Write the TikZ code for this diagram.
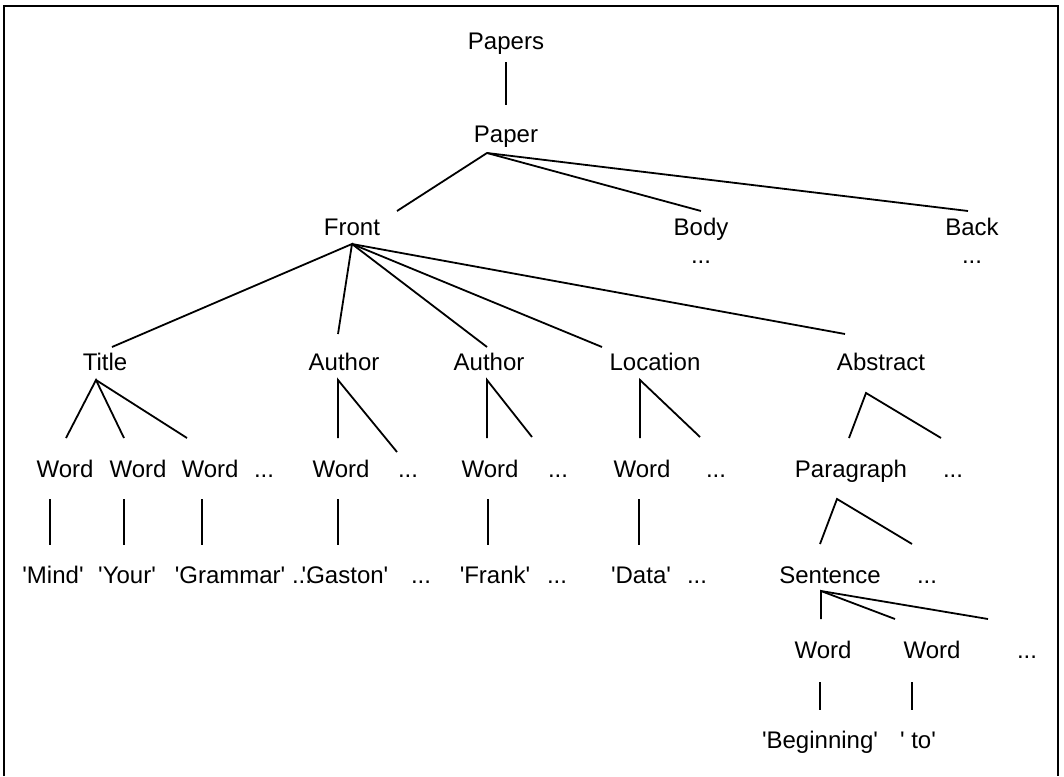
\documentclass[tikz,border=0pt]{standalone}
\usepackage{fontspec}
\setmainfont{Liberation Sans}
\newcommand{\sq}{\textquotesingle}
\begin{document}
\begin{tikzpicture}[x=1pt,y=-1pt,
  lbl/.style={anchor=base, inner sep=0pt, font=\fontsize{24}{28}\selectfont},
  edge/.style={line width=1.8pt, line cap=butt},
  frame/.style={line width=2pt}]
\useasboundingbox (0,0) rectangle (1064,776);
\draw[frame] (4,776) -- (4,6) -- (1058,6) -- (1058,776);

% ---- nodes ----
\node[lbl] (papers) at (506,49) {Papers};
\node[lbl] (paper) at (506,142) {Paper};
\node[lbl] (front) at (352,235) {Front};
\node[lbl] (body) at (701,235) {Body};
\node[lbl] (bodydots) at (701,263) {...};
\node[lbl] (back) at (972,235) {Back};
\node[lbl] (backdots) at (972,263) {...};

\node[lbl] (title) at (105,370) {Title};
\node[lbl] (author1) at (344,370) {Author};
\node[lbl] (author2) at (489,370) {Author};
\node[lbl] (location) at (655,370) {Location};
\node[lbl] (abstract) at (881,370) {Abstract};

\node[lbl] (w1) at (65,477) {Word};
\node[lbl] (w2) at (138,477) {Word};
\node[lbl] (w3) at (210,477) {Word};
\node[lbl] (tdots) at (264,477) {...};
\node[lbl] (w4) at (341,477) {Word};
\node[lbl] (a1dots) at (408,477) {...};
\node[lbl] (w5) at (490,477) {Word};
\node[lbl] (a2dots) at (558,477) {...};
\node[lbl] (w6) at (642,477) {Word};
\node[lbl] (ldots) at (716,477) {...};
\node[lbl] (paragraph) at (851,477) {Paragraph};
\node[lbl] (pdots) at (953,477) {...};

\node[lbl] (q1) at (53,583) {\sq Mind\sq};
\node[lbl] (q2) at (127,583) {\sq Your\sq};
\node[lbl] (q3) at (230,583) {\sq Grammar\sq};
\node[lbl] (qd1) at (302,583) {...};
\node[lbl] (q4) at (345,583) {\sq Gaston\sq};
\node[lbl] (qd2) at (421,583) {...};
\node[lbl] (q5) at (495,583) {\sq Frank\sq};
\node[lbl] (qd3) at (557,583) {...};
\node[lbl] (q6) at (641,583) {\sq Data\sq};
\node[lbl] (qd4) at (697,583) {...};
\node[lbl] (sentence) at (830,583) {Sentence};
\node[lbl] (sdots) at (927,583) {...};

\node[lbl] (sw1) at (823,658) {Word};
\node[lbl] (sw2) at (932,658) {Word};
\node[lbl] (swdots) at (1027,658) {...};

\node[lbl] (sq1) at (820,748) {\sq Beginning\sq};
\node[lbl] (sq2) at (918,748) {\sq\ to\sq};

% ---- connector end points ----
\coordinate (papers-b) at (506,62);
\coordinate (paper-t) at (506,105);
\coordinate (paper-b) at (487,153);
\coordinate (front-t) at (397,211);
\coordinate (body-t) at (701,211);
\coordinate (back-t) at (968,211);
\coordinate (front-b) at (352,244);
\coordinate (title-t) at (112,347);
\coordinate (author1-t) at (338,334);
\coordinate (author2-t) at (487,347);
\coordinate (location-t) at (602,347);
\coordinate (abstract-t) at (845,334);
\coordinate (title-b) at (96,380);
\coordinate (w1-t) at (66,438);
\coordinate (w2-t) at (124,438);
\coordinate (w3-t) at (187,438);
\coordinate (author1-b) at (338,380);
\coordinate (w4-t) at (338,438);
\coordinate (a1dots-t) at (397,452);
\coordinate (author2-b) at (487,380);
\coordinate (w5-t) at (487,438);
\coordinate (a2dots-t) at (532,437);
\coordinate (location-b) at (640,380);
\coordinate (w6-t) at (640,438);
\coordinate (ldots-t) at (700,437);
\coordinate (abstract-b) at (866,393);
\coordinate (paragraph-t) at (849,438);
\coordinate (pdots-t) at (941,438);
\coordinate (w1-b) at (50,499);   \coordinate (q1-t) at (50,545);
\coordinate (w2-b) at (124,499);  \coordinate (q2-t) at (124,545);
\coordinate (w3-b) at (202,499);  \coordinate (q3-t) at (202,545);
\coordinate (w4-b) at (338,499);  \coordinate (q4-t) at (338,545);
\coordinate (w5-b) at (488,499);  \coordinate (q5-t) at (488,545);
\coordinate (w6-b) at (639,499);  \coordinate (q6-t) at (639,545);
\coordinate (paragraph-b) at (837,499);
\coordinate (sentence-t) at (820,544);
\coordinate (sdots-t) at (912,544);
\coordinate (sentence-b) at (821,591);
\coordinate (sw1-t) at (821,619);
\coordinate (sw2-t) at (895,619);
\coordinate (swdots-t) at (988,619);
\coordinate (sw1-b) at (820,682);  \coordinate (sq1-t) at (820,710);
\coordinate (sw2-b) at (912,682);  \coordinate (sq2-t) at (912,710);

% ---- connectors ----
\draw[edge] (papers-b) -- (paper-t);
\draw[edge] (front-t) -- (paper-b) -- (body-t);
\draw[edge] (paper-b) -- (back-t);
\draw[edge] (title-t) -- (front-b) -- (author1-t);
\draw[edge] (front-b) -- (author2-t);
\draw[edge] (front-b) -- (location-t);
\draw[edge] (front-b) -- (abstract-t);
\draw[edge] (w1-t) -- (title-b) -- (w2-t);
\draw[edge] (title-b) -- (w3-t);
\draw[edge] (w4-t) -- (author1-b) -- (a1dots-t);
\draw[edge] (w5-t) -- (author2-b) -- (a2dots-t);
\draw[edge] (w6-t) -- (location-b) -- (ldots-t);
\draw[edge] (paragraph-t) -- (abstract-b) -- (pdots-t);
\foreach \i in {1,...,6} { \draw[edge] (w\i-b) -- (q\i-t); }
\draw[edge] (sentence-t) -- (paragraph-b) -- (sdots-t);
\draw[edge] (sw1-t) -- (sentence-b) -- (sw2-t);
\draw[edge] (sentence-b) -- (swdots-t);
\draw[edge] (sw1-b) -- (sq1-t);
\draw[edge] (sw2-b) -- (sq2-t);
\end{tikzpicture}
\end{document}
